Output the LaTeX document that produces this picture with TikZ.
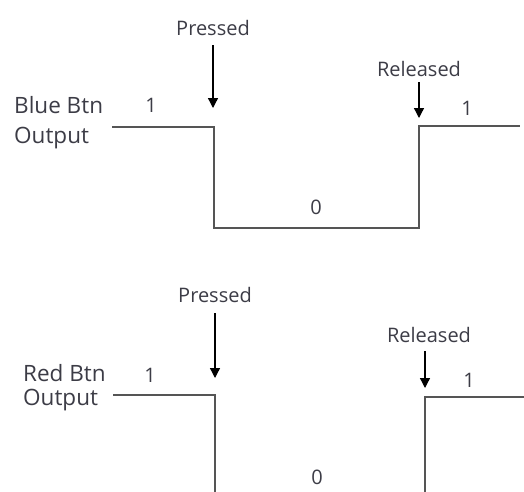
\documentclass[tikz,border=0pt]{standalone}
\usepackage{fontspec}
\setmainfont{Open Sans}
\usetikzlibrary{arrows.meta}
\definecolor{txt}{HTML}{3C3C46}
\definecolor{wave}{HTML}{555555}
\tikzset{
  lbl/.style={text=txt, font=\fontsize{20}{24}\selectfont, inner sep=0pt},
  sidelbl/.style={lbl, font=\fontsize{22.5}{27}\selectfont, anchor=west},
  wavestyle/.style={draw=wave, line width=2pt},
  evarrow/.style={draw=black, line width=1.3pt, -{Triangle[width=10pt,length=10pt]}},
}
\begin{document}
\begin{tikzpicture}[x=1pt,y=-1pt]
\useasboundingbox (0,0) rectangle (524,491);
% ---- Blue button ----
\node[sidelbl] (bbtn) at (14,105) {Blue Btn};
\node[sidelbl] (bout) at (14,138) {Output};
\node[lbl] (b1a) at (151,105) {1};
\node[lbl] (b0) at (316,207) {0};
\node[lbl] (b1b) at (467,108) {1};
\node[lbl] (bpress) at (213,28) {Pressed};
\node[lbl] (brel) at (419,69) {Released};
\coordinate (bs) at (112,127);
\coordinate (bf) at (214,127);
\coordinate (bl1) at (214,228);
\coordinate (bl2) at (419,228);
\coordinate (br) at (419,126);
\coordinate (be) at (520,126);
\draw[wavestyle] (bs) -- (bf) -- (bl1) -- (bl2) -- (br) -- (be);
\coordinate (bps) at (213,45);
\coordinate (bpt) at (213,108);
\coordinate (brs) at (419,82);
\coordinate (brt) at (419,118);
\draw[evarrow] (bps) -- (bpt);
\draw[evarrow] (brs) -- (brt);
% ---- Red button ----
\node[sidelbl] (rbtn) at (23,373) {Red Btn};
\node[sidelbl] (rout) at (23,400) {Output};
\node[lbl] (r1a) at (150,375) {1};
\node[lbl] (r0) at (317,477) {0};
\node[lbl] (r1b) at (469,380) {1};
\node[lbl] (rpress) at (215,295) {Pressed};
\node[lbl] (rrel) at (429,335) {Released};
\coordinate (rs) at (113,395);
\coordinate (rf) at (215,395);
\coordinate (rd) at (215,495);
\coordinate (ru) at (425,495);
\coordinate (rr) at (425,397);
\coordinate (re) at (526,397);
\draw[wavestyle] (rs) -- (rf) -- (rd);
\draw[wavestyle] (ru) -- (rr) -- (re);
\coordinate (rps) at (215,313);
\coordinate (rpt) at (215,378);
\coordinate (rrs) at (425,351);
\coordinate (rrt) at (425,388);
\draw[evarrow] (rps) -- (rpt);
\draw[evarrow] (rrs) -- (rrt);
\end{tikzpicture}
\end{document}
